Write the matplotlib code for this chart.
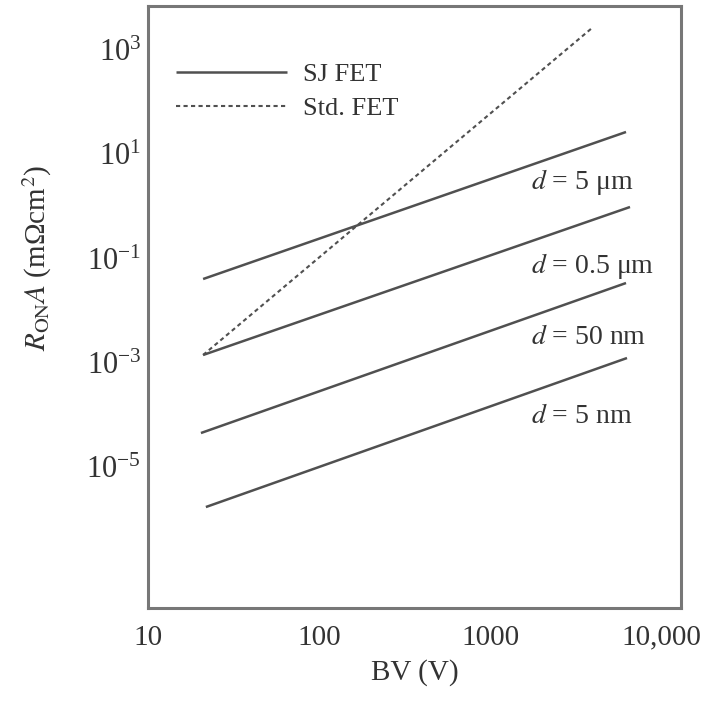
import matplotlib
matplotlib.use("Agg")
import matplotlib.pyplot as plt

plt.rcParams['font.family'] = ['Liberation Serif', 'DejaVu Serif']
plt.rcParams['mathtext.fontset'] = 'stix'

# SJ FET lines: breakdown voltage (V) and RonA (mOhm cm^2) at both ends
sj_labels = ["$d$ = 5 μm", "$d$ = 0.5 μm", "$d$ = 50 nm", "$d$ = 5 nm"]
sj_bv = [[21.0, 6243.0], [21.0, 6588.0], [20.4, 6243.0], [21.8, 6327.0]]
sj_ron = [[4.02e-2, 26.7], [1.40e-3, 0.970], [4.45e-5, 3.37e-2], [1.69e-6, 1.225e-3]]
# label anchor (BV, RonA) for each d
label_bv = [1737.0, 1737.0, 1737.0, 1737.0]
label_ron = [2.93, 7.15e-2, 3.10e-3, 9.44e-5]

# standard FET line
std_bv = [21.0, 3950.0]
std_ron = [1.40e-3, 2644.0]

x_ticks = [10, 100, 1000, 10000]
x_ticklabels = ["10", "100", "1000", "10,000"]
y_ticks = [1e3, 1e1, 1e-1, 1e-3, 1e-5]
y_ticklabels = [r"$\mathregular{10^{3}}$", r"$\mathregular{10^{1}}$", r"$\mathregular{10^{-1}}$",
                r"$\mathregular{10^{-3}}$", r"$\mathregular{10^{-5}}$"]

line_col = "#505050"
text_col = "#333333"

fig = plt.figure(figsize=(7.19, 7.02), dpi=100)
ax = fig.add_axes([148 / 719, 1 - 608 / 702, 533 / 719, 602 / 702])
ax.set_xscale('log')
ax.set_yscale('log')
ax.set_xlim(10, 13090)
ax.set_ylim(1.95e-8, 6990)

for i in range(len(sj_labels)):
    ax.plot(sj_bv[i], sj_ron[i], color=line_col, lw=1.8, solid_capstyle='butt',
            label="SJ FET" if i == 0 else None)
    ax.text(label_bv[i], label_ron[i], sj_labels[i], fontsize=20, color=text_col,
            ha='left', va='center')

ax.plot(std_bv, std_ron, color=line_col, lw=1.5, linestyle=(0, (2, 1.6)), label="Std. FET")

ax.set_xticks(x_ticks)
ax.set_xticklabels(x_ticklabels)
ax.set_yticks(y_ticks)
ax.set_yticklabels(y_ticklabels)
ax.minorticks_off()
ax.tick_params(length=0, labelcolor=text_col)
ax.tick_params(axis='x', pad=12, labelsize=21)
ax.tick_params(axis='y', pad=5, labelsize=22)

for sp in ax.spines.values():
    sp.set_color("#777777")
    sp.set_linewidth(2.2)

ax.set_xlabel("BV (V)", fontsize=21, color=text_col, labelpad=6)
ax.set_ylabel(r"$R_{\mathrm{ON}}A$ (mΩcm$^{2}$)", fontsize=21, color=text_col)
ax.yaxis.set_label_coords(-0.176, 0.581)

leg = ax.legend(loc='upper left', bbox_to_anchor=(0.008, 0.945), frameon=False, fontsize=19,
                handlelength=4.2, handletextpad=0.6, labelspacing=0.4, labelcolor=text_col)

fig.savefig("out.png", dpi=100)
